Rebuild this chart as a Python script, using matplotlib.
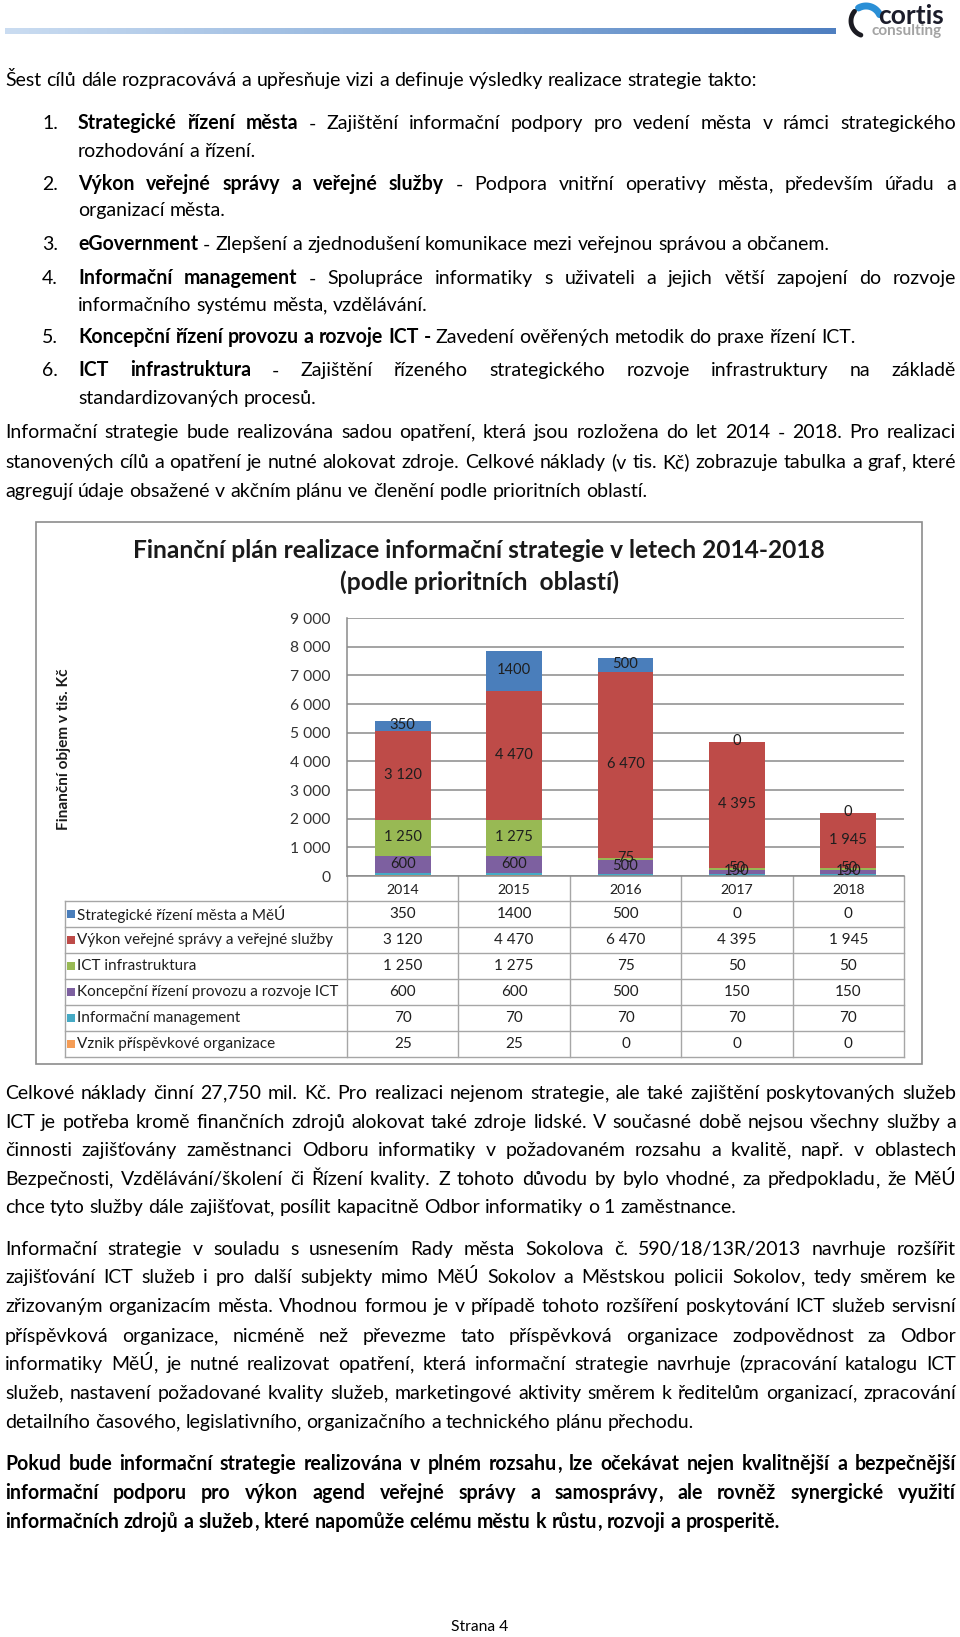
import re
import numpy as np
import matplotlib
matplotlib.use('Agg')
import matplotlib.pyplot as plt
from matplotlib import font_manager as fm
from matplotlib.transforms import blended_transform_factory

# data (tis. Kč)
years = ['2014', '2015', '2016', '2017', '2018']
series = ['Strategické řízení města a MěÚ',
          'Výkon veřejné správy a veřejné služby',
          'ICT infrastruktura',
          'Koncepční řízení provozu a rozvoje ICT',
          'Informační management',
          'Vznik příspěvkové organizace']
strategicke = [350, 1400, 500, 0, 0]
vykon = [3120, 4470, 6470, 4395, 1945]
ict = [1250, 1275, 75, 50, 50]
koncepcni = [600, 600, 500, 150, 150]
inf_management = [70, 70, 70, 70, 70]
vznik = [25, 25, 0, 0, 0]
values = [strategicke, vykon, ict, koncepcni, inf_management, vznik]
colors = ['#4A7EBB', '#BE4B48', '#98B954', '#7D60A0', '#46AAC5', '#F59D56']
show_label = [True, True, True, True, False, False]
thousand_sep = ['', ' ', ' ', ' ', ' ', ' ']
yticks = np.arange(0, 9001, 1000)

# page text
intro = 'Šest cílů dále rozpracovává a upřesňuje vizi a definuje výsledky realizace strategie takto:'
items = [
    ('1.', ['**Strategické řízení města** - Zajištění informační podpory pro vedení města v rámci strategického',
            'rozhodování a řízení.']),
    ('2.', ['**Výkon veřejné správy a veřejné služby** - Podpora vnitřní operativy města, především úřadu a',
            'organizací města.']),
    ('3.', ['**eGovernment** - Zlepšení a zjednodušení komunikace mezi veřejnou správou a občanem.']),
    ('4.', ['**Informační management** - Spolupráce informatiky s uživateli a jejich větší zapojení do rozvoje',
            'informačního systému města, vzdělávání.']),
    ('5.', ['**Koncepční řízení provozu a rozvoje ICT -** Zavedení ověřených metodik do praxe řízení ICT.']),
    ('6.', ['**ICT infrastruktura** - Zajištění řízeného strategického rozvoje infrastruktury na základě',
            'standardizovaných procesů.']),
]
para1 = ['Informační strategie bude realizována sadou opatření, která jsou rozložena do let 2014 - 2018. Pro realizaci',
         'stanovených cílů a opatření je nutné alokovat zdroje. Celkové náklady (v tis. Kč) zobrazuje tabulka a graf, které',
         'agregují údaje obsažené v akčním plánu ve členění podle prioritních oblastí.']
para2 = ['Celkové náklady činní 27,750 mil. Kč. Pro realizaci nejenom strategie, ale také zajištění poskytovaných služeb',
         'ICT je potřeba kromě finančních zdrojů alokovat také zdroje lidské. V současné době nejsou všechny služby a',
         'činnosti zajišťovány zaměstnanci Odboru informatiky v požadovaném rozsahu a kvalitě, např. v oblastech',
         'Bezpečnosti, Vzdělávání/školení či Řízení kvality. Z tohoto důvodu by bylo vhodné, za předpokladu, že MěÚ',
         'chce tyto služby dále zajišťovat, posílit kapacitně Odbor informatiky o 1 zaměstnance.']
para3 = ['Informační strategie v souladu s usnesením Rady města Sokolova č. 590/18/13R/2013 navrhuje rozšířit',
         'zajišťování ICT služeb i pro další subjekty mimo MěÚ Sokolov a Městskou policii Sokolov, tedy směrem ke',
         'zřizovaným organizacím města. Vhodnou formou je v případě tohoto rozšíření poskytování ICT služeb servisní',
         'příspěvková organizace, nicméně než převezme tato příspěvková organizace zodpovědnost za Odbor',
         'informatiky MěÚ, je nutné realizovat opatření, která informační strategie navrhuje (zpracování katalogu ICT',
         'služeb, nastavení požadované kvality služeb, marketingové aktivity směrem k ředitelům organizací, zpracování',
         'detailního časového, legislativního, organizačního a technického plánu přechodu.']
para4 = ['**Pokud bude informační strategie realizována v plném rozsahu, lze očekávat nejen kvalitnější a bezpečnější**',
         '**informační podporu pro výkon agend veřejné správy a samosprávy, ale rovněž synergické využití**',
         '**informačních zdrojů a služeb, které napomůže celému městu k růstu, rozvoji a prosperitě.**']

installed = {f.name for f in fm.fontManager.ttflist}
FONT = 'Liberation Sans Narrow' if 'Liberation Sans Narrow' in installed else 'Lato'

W, H = 960, 1637
fig = plt.figure(figsize=(9.6, 16.37), dpi=100)
page = fig.add_axes([0, 0, 1, 1])
page.axis('off')
R = fig.canvas.get_renderer()


def px_width(s, size, **kw):
    t = page.text(0, 0, s, fontsize=size, family=FONT, **kw)
    w = t.get_window_extent(R).width
    t.remove()
    return w


def fit(s, width, **kw):
    return 10 * width / px_width(s, 10, **kw)


# header gradient bar + logo
grad = np.linspace(0, 1, 256).reshape(1, -1)
cm = matplotlib.colors.LinearSegmentedColormap.from_list('hdr', ['#cadcf1', '#8fb2dc', '#4f7fc0'])
page.imshow(grad, cmap=cm, extent=(5, 836, 34, 28), aspect='auto', interpolation='bilinear')

t = np.linspace(np.radians(25), np.radians(120), 40)
page.plot(866 + 15 * np.cos(t), 21 - 15 * np.sin(t), color='#2a8fd6', lw=5, solid_capstyle='round')
t = np.linspace(np.radians(140), np.radians(250), 40)
page.plot(866 + 15 * np.cos(t), 21 - 15 * np.sin(t), color='#1b1b22', lw=3.5, solid_capstyle='round')
page.text(878, 16, 'cortis', fontsize=fit('cortis', 66, fontweight='bold'), family=FONT,
          fontweight='bold', color='#1c1d2b', va='center', ha='left')
page.text(872, 31, 'consulting', fontsize=fit('consulting', 70, fontweight='bold'), family=FONT,
          fontweight='bold', color='#a3a3a3', va='center', ha='left')

BODY = fit(para1[2], 642)
PX = BODY * 100 / 72
space = px_width('a a', BODY) - px_width('aa', BODY)


def put_word(w, y, bold):
    # commas go in their own text objects so every word sits on the same baseline
    pieces = re.findall(r'[^,]+|,', w)
    objs = [page.text(0, y + 0.32 * PX, p, fontsize=BODY, family=FONT,
                      fontweight='bold' if bold else 'normal', va='baseline', ha='left', color='#000000')
            for p in pieces]
    ws = [o.get_window_extent(R).width for o in objs]
    return objs, ws


def draw_line(s, y, x0, x1=None):
    parts = s.split('**')
    words = []
    for k, p in enumerate(parts):
        for w in p.split():
            words.append(put_word(w, y, k % 2 == 1))
    widths = [sum(ws) for _, ws in words]
    gap = space
    if x1 is not None and len(words) > 1:
        gap = max((x1 - x0 - sum(widths)) / (len(words) - 1), 0.6 * space)
    x = x0
    for (objs, ws), wt in zip(words, widths):
        xx = x
        for o, w in zip(objs, ws):
            o.set_x(xx)
            xx += w
        x += wt + gap


def draw_para(lines, ys, x0, x1):
    for k, (s, y) in enumerate(zip(lines, ys)):
        draw_line(s, y, x0, x1 if k < len(lines) - 1 else None)


draw_line(intro, 80, 5)
item_y = [[123, 151], [184, 210], [244], [278, 305], [337], [370, 398]]
for (num, lines), ys in zip(items, item_y):
    draw_line(num, ys[0], 42)
    draw_para(lines, ys, 78, 956)
draw_para(para1, [432, 462, 491], 5, 956)
draw_para(para2, [1093, 1122, 1150, 1179, 1207], 5, 956)
draw_para(para3, [1249, 1277, 1306, 1336, 1364, 1393, 1422], 5, 956)
draw_para(para4, [1464, 1493, 1522], 5, 956)
page.text(480, 1627, 'Strana 4', fontsize=fit('Strana 4', 57), family=FONT, ha='center', va='center')

# chart frame and titles
page.add_patch(plt.Rectangle((36, 522), 886, 542, fill=False, ec='#8c8c8c', lw=1.2))
title1 = 'Finanční plán realizace informační strategie v letech 2014-2018'
tsize = fit(title1, 692, fontweight='bold')
page.text(479, 551, title1, fontsize=tsize, family=FONT, fontweight='bold', ha='center', va='center', color='#1a1a1a')
page.text(479, 582, '(podle prioritních  oblastí)', fontsize=tsize, family=FONT, fontweight='bold',
          ha='center', va='center', color='#1a1a1a')
ylab = 'Finanční objem v tis. Kč'
page.text(64, 749, ylab, fontsize=fit(ylab, 162, fontweight='bold'), family=FONT, fontweight='bold',
          rotation=90, ha='center', va='center', color='#1a1a1a')

page.set_xlim(0, W)
page.set_ylim(H, 0)

# stacked bars
ax = fig.add_axes([347 / W, 1 - 876 / H, 557 / W, 258 / H])
x = np.arange(len(years))
order = [5, 4, 3, 2, 1, 0]  # bottom to top
bottom = np.zeros(len(years))
lsize = fit('3 120', 38)
for si in order:
    v = np.array(values[si], dtype=float)
    ax.bar(x, v, 0.5, bottom=bottom, color=colors[si], edgecolor='none', zorder=2)
    if show_label[si]:
        for i in range(len(years)):
            lab = f'{values[si][i]:,}'.replace(',', thousand_sep[si])
            ax.text(x[i], bottom[i] + v[i] / 2 + 30, lab, fontsize=lsize, family=FONT,
                    ha='center', va='center', color='#1e1e1e', zorder=3)
    bottom += v

ax.set_xlim(-0.5, len(years) - 0.5)
ax.set_ylim(0, 9000)
ax.set_yticks(yticks)
ax.set_yticklabels([f'{v:,}'.replace(',', ' ') for v in yticks], family=FONT,
                   fontsize=fit('9 000', 40), color='#333333')
ax.set_xticks([])
ax.tick_params(axis='y', length=0, pad=12)
ax.yaxis.grid(True, color='#8a8a8a', lw=1.1, zorder=0)
ax.set_axisbelow(True)
for sp in ['top', 'right']:
    ax.spines[sp].set_visible(False)
for sp in ['left', 'bottom']:
    ax.spines[sp].set_color('#8a8a8a')
    ax.spines[sp].set_linewidth(1.1)

# data table under the chart
tr = blended_transform_factory(ax.transData, page.transData)
row_top = 901
row_h = 26
n = len(series)
gc = '#a6a6a6'
bounds = np.arange(len(years) + 1) - 0.5
for b in bounds:
    page.plot([b, b], [876, row_top + n * row_h], color=gc, lw=1, transform=tr)
page.plot([65, 65], [row_top, row_top + n * row_h], color=gc, lw=1)
for r in range(n + 1):
    page.plot([65, 904], [row_top + r * row_h] * 2, color=gc, lw=1)
ysize = fit('2014', 33)
for i, yr in enumerate(years):
    page.text(x[i], 890, yr, fontsize=ysize, family=FONT, ha='center', va='center', color='#1e1e1e', transform=tr)
tsz = fit(series[1], 255)
for r in range(n):
    yc = row_top + r * row_h + row_h / 2
    page.add_patch(plt.Rectangle((67, yc - 4.5), 8, 8, color=colors[r], lw=0))
    page.text(77, yc, series[r], fontsize=tsz, family=FONT, ha='left', va='center', color='#1e1e1e')
    for i in range(len(years)):
        lab = f'{values[r][i]:,}'.replace(',', thousand_sep[r])
        page.text(x[i], yc, lab, fontsize=tsz, family=FONT, ha='center', va='center',
                  color='#1e1e1e', transform=tr)

fig.savefig('out.png', dpi=100)
